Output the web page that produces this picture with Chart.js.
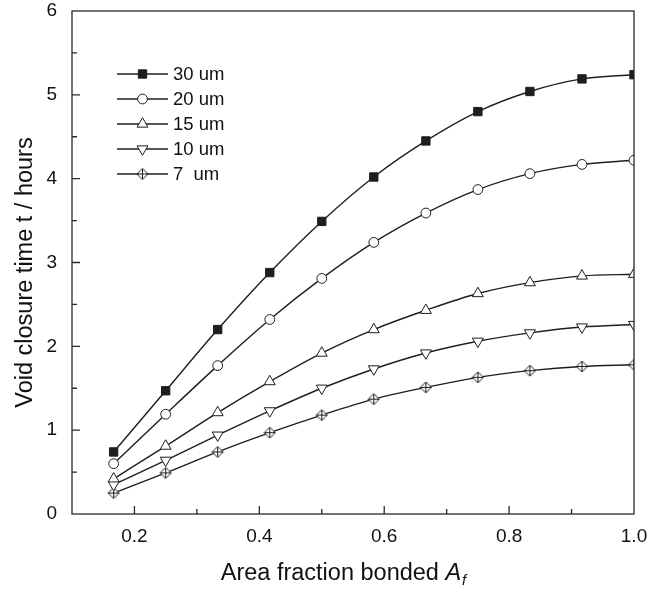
<!DOCTYPE html>
<html lang="en">
<head>
<meta charset="UTF-8">
<title>Void closure time vs area fraction bonded</title>
<script src="https://cdn.jsdelivr.net/npm/chart.js@4/dist/chart.umd.min.js"></script>
<style>
  html, body { margin: 0; padding: 0; background: #fff; }
  #wrap { width: 652px; height: 589px; }
</style>
</head>
<body>
<div id="wrap"><canvas id="voidChart" width="652" height="589"></canvas></div>
<script>
// area fraction bonded (x) and void closure time in hours per void size
const areaFraction = [0.1667, 0.25, 0.3333, 0.4167, 0.5, 0.5833, 0.6667, 0.75, 0.8333, 0.9167, 1.0];
const t30 = [0.74, 1.47, 2.20, 2.88, 3.49, 4.02, 4.45, 4.80, 5.04, 5.19, 5.24];
const t20 = [0.60, 1.19, 1.77, 2.32, 2.81, 3.24, 3.59, 3.87, 4.06, 4.17, 4.22];
const t15 = [0.42, 0.81, 1.21, 1.58, 1.92, 2.20, 2.43, 2.63, 2.76, 2.84, 2.86];
const t10 = [0.35, 0.64, 0.94, 1.23, 1.50, 1.73, 1.92, 2.06, 2.16, 2.23, 2.26];
const t7  = [0.25, 0.49, 0.74, 0.97, 1.18, 1.37, 1.51, 1.63, 1.71, 1.76, 1.78];
const seriesLabels = ['30 um', '20 um', '15 um', '10 um', '7  um'];
const seriesValues = [t30, t20, t15, t10, t7];

const FONT = "'Liberation Sans', Arial, Helvetica, sans-serif";
const INK = '#1e1e1e';

// diamond with a cross inside, used for the 7 um series
function diamondCross(size) {
    const c = document.createElement('canvas');
    c.width = size; c.height = size;
    const g = c.getContext('2d');
    const m = size / 2, r = m - 1;
    g.strokeStyle = INK; g.lineWidth = 1; g.fillStyle = '#fff';
    g.beginPath();
    g.moveTo(m, m - r); g.lineTo(m + r, m); g.lineTo(m, m + r); g.lineTo(m - r, m);
    g.closePath();
    g.fill(); g.stroke();
    g.beginPath();
    g.moveTo(m, m - r); g.lineTo(m, m + r);
    g.moveTo(m - r, m); g.lineTo(m + r, m);
    g.stroke();
    return c;
}

const markers = [
    { pointStyle: 'rect', radius: 5.9, rotation: 0, fill: INK },
    { pointStyle: 'circle', radius: 4.9, rotation: 0, fill: '#fff' },
    { pointStyle: 'triangle', radius: 6.3, rotation: 0, fill: '#fff' },
    { pointStyle: 'triangle', radius: 6.3, rotation: 180, fill: '#fff' },
    { pointStyle: diamondCross(13), radius: 6, rotation: 0, fill: '#fff' }
];

const datasets = seriesLabels.map((label, i) => ({
    label: label,
    data: areaFraction.map((x, j) => ({ x: x, y: seriesValues[i][j] })),
    borderColor: INK,
    borderWidth: 1.4,
    cubicInterpolationMode: 'monotone',
    clip: 0,
    pointStyle: markers[i].pointStyle,
    pointRadius: markers[i].radius,
    pointRotation: markers[i].rotation,
    pointBackgroundColor: markers[i].fill,
    pointBorderColor: INK,
    pointBorderWidth: 1
}));

// box frame plus inward major/minor ticks
const frameAndTicks = {
    id: 'frameAndTicks',
    afterDraw(chart) {
        const { ctx, chartArea: a, scales: { x, y } } = chart;
        ctx.save();
        ctx.strokeStyle = '#2a2a2a';
        ctx.lineWidth = 1.3;
        ctx.strokeRect(a.left, a.top, a.right - a.left, a.bottom - a.top);
        ctx.beginPath();
        x.ticks.forEach(t => {
            const px = x.getPixelForValue(t.value);
            if (px <= a.left + 1 || px >= a.right - 1) return;
            const len = t.label ? 8 : 5;
            ctx.moveTo(px, a.bottom); ctx.lineTo(px, a.bottom - len);
        });
        y.ticks.forEach(t => {
            const py = y.getPixelForValue(t.value);
            if (py <= a.top + 1 || py >= a.bottom - 1) return;
            const len = t.label !== '' ? 8 : 5;
            ctx.moveTo(a.left, py); ctx.lineTo(a.left + len, py);
        });
        ctx.stroke();
        ctx.restore();
    }
};

// legend inside the plot, top left
const insideLegend = {
    id: 'insideLegend',
    afterDraw(chart) {
        const { ctx, chartArea: a } = chart;
        ctx.save();
        ctx.font = '18.5px ' + FONT;
        ctx.textBaseline = 'middle';
        ctx.textAlign = 'left';
        seriesLabels.forEach((label, i) => {
            const rowY = a.top + 63 + i * 25;
            ctx.strokeStyle = INK;
            ctx.lineWidth = 1.4;
            ctx.beginPath();
            ctx.moveTo(a.left + 45, rowY); ctx.lineTo(a.left + 96, rowY);
            ctx.stroke();
            ctx.fillStyle = markers[i].fill;
            ctx.strokeStyle = INK;
            ctx.lineWidth = 1;
            Chart.helpers.drawPoint(ctx, {
                pointStyle: markers[i].pointStyle,
                rotation: markers[i].rotation,
                radius: markers[i].radius,
                borderWidth: 1
            }, a.left + 70.5, rowY);
            ctx.fillStyle = '#111';
            ctx.fillText(label, a.left + 101, rowY + 1);
        });
        ctx.restore();
    }
};

// axis titles (x title needs italic A with subscript f)
const axisTitles = {
    id: 'axisTitles',
    afterDraw(chart) {
        const { ctx, chartArea: a } = chart;
        ctx.save();
        ctx.fillStyle = '#111';
        ctx.textBaseline = 'alphabetic';
        ctx.textAlign = 'left';
        const main = 'Area fraction bonded ';
        ctx.font = '23.5px ' + FONT;
        const w1 = ctx.measureText(main).width;
        ctx.font = 'italic 23.5px ' + FONT;
        const w2 = ctx.measureText('A').width;
        ctx.font = 'italic 15px ' + FONT;
        const w3 = ctx.measureText('f').width;
        const x0 = (a.left + a.right) / 2 - 10 - (w1 + w2 + w3) / 2;
        const base = 580;
        ctx.font = '23.5px ' + FONT;
        ctx.fillText(main, x0, base);
        ctx.font = 'italic 23.5px ' + FONT;
        ctx.fillText('A', x0 + w1, base);
        ctx.font = 'italic 15px ' + FONT;
        ctx.fillText('f', x0 + w1 + w2 + 1, base + 5);

        ctx.font = '23.5px ' + FONT;
        ctx.textAlign = 'center';
        ctx.textBaseline = 'middle';
        ctx.translate(26, (a.top + a.bottom) / 2 + 10);
        ctx.rotate(-Math.PI / 2);
        ctx.fillText('Void closure time t / hours', 0, 0);
        ctx.restore();
    }
};

const tickFont = { family: FONT, size: 19 };

new Chart(document.getElementById('voidChart'), {
    type: 'line',
    data: { datasets: datasets },
    options: {
        responsive: false,
        animation: false,
        devicePixelRatio: 1,
        layout: { padding: { top: 11, right: 18, left: 0, bottom: 0 } },
        plugins: { legend: { display: false }, tooltip: { enabled: false } },
        scales: {
            x: {
                type: 'linear',
                min: 0.1,
                max: 1.0,
                border: { display: false },
                grid: { display: false },
                ticks: {
                    stepSize: 0.1,
                    autoSkip: false,
                    maxRotation: 0,
                    padding: 3,
                    color: '#111',
                    font: tickFont,
                    callback: v => {
                        const k = Math.round(v * 10);
                        return k % 2 === 0 ? (k / 10).toFixed(1) : '';
                    }
                },
                afterFit: s => { s.height = 75; s.paddingLeft = 0; s.paddingRight = 0; }
            },
            y: {
                type: 'linear',
                min: 0,
                max: 6,
                border: { display: false },
                grid: { display: false },
                ticks: {
                    stepSize: 0.5,
                    autoSkip: false,
                    padding: 7,
                    color: '#111',
                    font: tickFont,
                    callback: v => Number.isInteger(v) ? String(v) : ''
                },
                afterFit: s => { s.width = 72; s.paddingTop = 0; s.paddingBottom = 0; }
            }
        }
    },
    plugins: [frameAndTicks, insideLegend, axisTitles]
});
</script>
</body>
</html>
